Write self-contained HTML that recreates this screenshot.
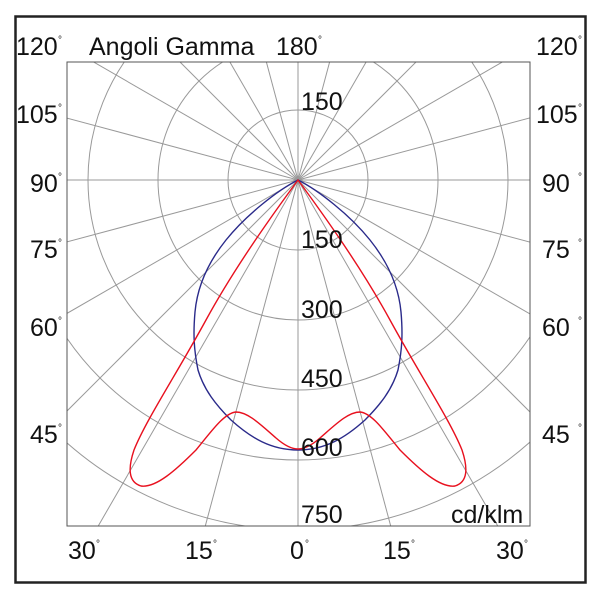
<!DOCTYPE html>
<html><head><style>
html,body{margin:0;background:#fff;overflow:hidden;width:600px;height:600px;}
svg{display:block;font-family:"Liberation Sans",Arial,sans-serif;}
</style></head><body>
<svg width="600" height="600" viewBox="0 0 600 600">
<rect x="0" y="0" width="600" height="600" fill="#fff"/>
<rect x="15.5" y="16.5" width="570" height="566" fill="none" stroke="#222" stroke-width="2.5"/>
<defs><clipPath id="c"><rect x="67" y="62" width="463" height="464"/></clipPath></defs>
<g clip-path="url(#c)" stroke="#999" stroke-width="1" fill="none" id="grid">
<circle cx="298" cy="180" r="70"/><circle cx="298" cy="180" r="140"/><circle cx="298" cy="180" r="210"/><circle cx="298" cy="180" r="280"/><circle cx="298" cy="180" r="350"/>
</g>
<rect x="67" y="62" width="463" height="464" fill="none" stroke="#555" stroke-width="1"/>
<g clip-path="url(#c)" fill="none" stroke-width="1.4">
<path stroke="#2a2a8a" d="M298,180 C318,190 350,215 370,240 C390,265 399,290 401,312 C403,335 402,350 398,370 C392,390 380,405 365,420 C345,438 325,450 298,450 C271,450 251,438 231,420 C216,405 204,390 198,370 C194,350 193,335 195,312 C197,290 206,265 226,240 C246,215 278,190 298,180 Z"/>
<path stroke="#e8101e" d="M298,180 C320,210 360,265 390,320 C420,375 450,420 462,450 C468,468 468,482 455,486 C440,488 420,470 400,450 C385,432 372,413 360,412 C348,412 335,425 320,438 C312,445 305,449 298,449 C291,449 284,445 276,438 C261,425 248,412 236,412 C224,413 211,432 196,450 C176,470 156,488 141,486 C128,482 128,468 134,450 C146,420 176,375 206,320 C236,265 276,210 298,180 Z"/>
</g>
<g font-size="25" fill="#111">
<text x="16" y="55">120</text><text x="536" y="55">120</text>
<text x="89" y="55">Angoli Gamma</text><text x="276" y="55">180</text>
<text x="16" y="123">105</text><text x="536" y="123">105</text>
<text x="30" y="192">90</text><text x="542" y="192">90</text>
<text x="30" y="258">75</text><text x="542" y="258">75</text>
<text x="30" y="336">60</text><text x="542" y="336">60</text>
<text x="30" y="443">45</text><text x="542" y="443">45</text>
<text x="68" y="559">30</text><text x="185" y="559">15</text><text x="290" y="559">0</text><text x="383" y="559">15</text><text x="496" y="559">30</text>
<text x="301" y="110">150</text><text x="301" y="248">150</text><text x="301" y="318">300</text>
<text x="301" y="387">450</text><text x="301" y="456">600</text><text x="301" y="523">750</text>
<text x="451" y="523">cd/klm</text>
</g>
<g font-size="10" fill="#111">
<text x="58" y="43">°</text><text x="578" y="43">°</text><text x="318" y="43">°</text>
<text x="58" y="111">°</text><text x="578" y="111">°</text>
<text x="58" y="180">°</text><text x="578" y="180">°</text>
<text x="58" y="246">°</text><text x="578" y="246">°</text>
<text x="58" y="324">°</text><text x="578" y="324">°</text>
<text x="58" y="431">°</text><text x="578" y="431">°</text>
<text x="96" y="547">°</text><text x="213" y="547">°</text><text x="305" y="547">°</text><text x="411" y="547">°</text><text x="524" y="547">°</text>
</g>
<script>
var g=document.getElementById('grid');
for(var a=0;a<360;a+=15){var r=a*Math.PI/180;var l=document.createElementNS('http://www.w3.org/2000/svg','line');
l.setAttribute('x1',298);l.setAttribute('y1',180);l.setAttribute('x2',298+700*Math.sin(r));l.setAttribute('y2',180+700*Math.cos(r));g.appendChild(l);}
</script>
</svg>
</body></html>
